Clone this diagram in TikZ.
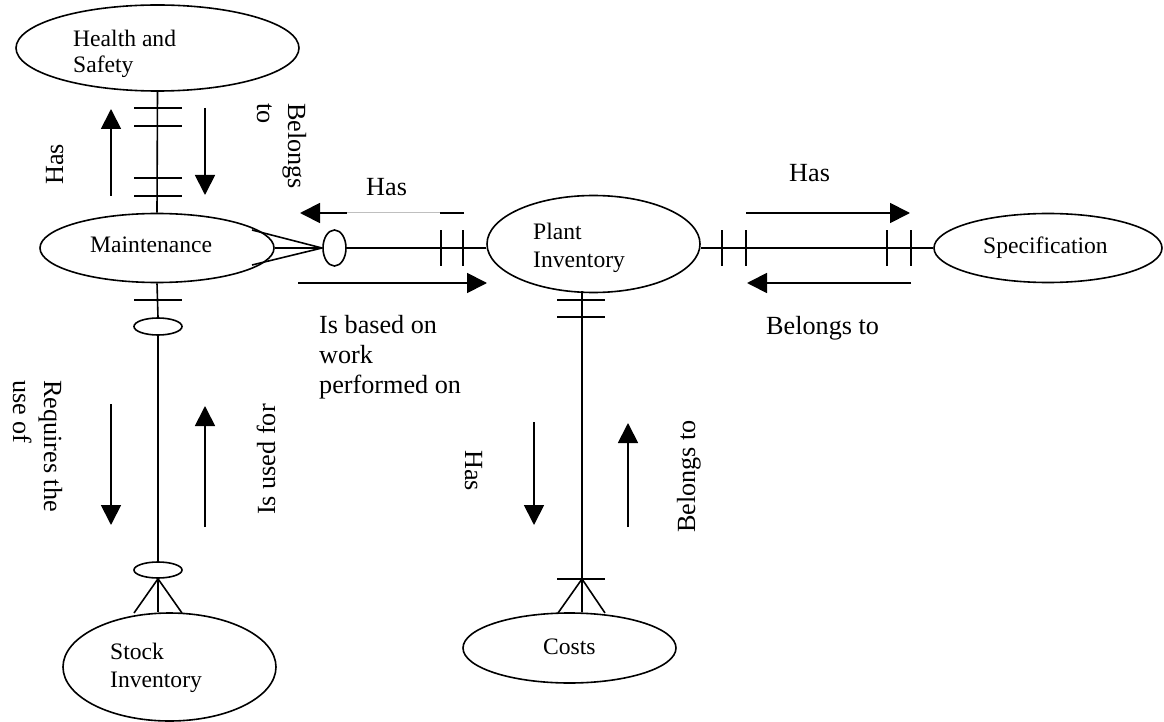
\documentclass[tikz,border=0pt]{standalone}
\usepackage{fontspec}
\setmainfont{Liberation Serif}
\usetikzlibrary{shapes.geometric,arrows.meta}
\begin{document}
\begin{tikzpicture}[x=1pt,y=-1pt,
  ent/.style={draw,ellipse,line width=1.6pt,inner sep=0pt},
  opt/.style={draw,ellipse,line width=1.6pt,inner sep=0pt},
  conn/.style={line width=1.6pt},
  tick/.style={line width=1.6pt},
  flow/.style={line width=1.8pt,-{Triangle[length=20pt,width=20pt]}},
  ntext/.style={inner sep=0pt,anchor=base west,font=\fontsize{23.6}{28}\selectfont},
  ltext/.style={inner sep=0pt,anchor=base west,font=\fontsize{26.2}{30}\selectfont}]
\useasboundingbox (0,0) rectangle (1164,722);
% entities
\node[ent,minimum width=283pt,minimum height=86pt] (hs) at (157.5,48) {};
\node[ent,minimum width=234pt,minimum height=69pt] (mt) at (157,248) {};
\node[ent,minimum width=213pt,minimum height=97pt] (pi) at (593.5,244) {};
\node[ent,minimum width=228pt,minimum height=69pt] (sp) at (1048,248) {};
\node[ent,minimum width=213pt,minimum height=108pt] (si) at (169.5,667) {};
\node[ent,minimum width=213pt,minimum height=70pt] (co) at (569.5,648) {};
% optionality ovals
\node[opt,minimum width=23pt,minimum height=36pt] (o1) at (334.5,248) {};
\node[opt,minimum width=48pt,minimum height=17pt] (o2) at (158,326.5) {};
\node[opt,minimum width=48pt,minimum height=16pt] (o3) at (158,570) {};
% entity texts
\node[ntext] (t1) at (73,47) {Health and};
\node[ntext] (t2) at (73,73) {Safety};
\node[ntext] (t3) at (90,252) {Maintenance};
\node[ntext] (t4) at (533,239) {Plant};
\node[ntext] (t5) at (533,267) {Inventory};
\node[ntext] (t6) at (983,253) {Specification};
\node[ntext] (t7) at (110,659) {Stock};
\node[ntext] (t8) at (110,687) {Inventory};
\node[ntext] (t9) at (543,654) {Costs};
% connectors
\draw[conn] (hs.south) -- (mt.north);
\draw[conn] (mt.south) -- (o2.north);
\draw[conn] (o2.south) -- (o3.north);
\coordinate (f1) at (o3.south);
\draw[conn] (f1) -- (f1 |- si.north);
\draw[conn] (f1) -- (134,613);
\draw[conn] (f1) -- (182,613);
\coordinate (f2) at (322,248);
\draw[conn] (mt.east) -- (f2);
\draw[conn] (252,230) -- (f2);
\draw[conn] (252,265) -- (f2);
\draw[conn] (o1.east) -- (o1.east -| pi.west);
\draw[conn] (sp.west -| pi.east) -- (sp.west);
\coordinate (pb) at (582,291);
\coordinate (cf) at (582,579);
\draw[conn] (pb) -- (pb |- co.north);
\draw[conn] (cf) -- (558,613);
\draw[conn] (cf) -- (605,613);
% ticks
\foreach \y in {108,126,178,196,300} \draw[tick] (134,\y) -- (182,\y);
\foreach \y in {300,317,579} \draw[tick] (557,\y) -- (605,\y);
\foreach \x in {441,463,722,746,887,911} \draw[tick] (\x,230) -- (\x,266);
% direction arrows
\draw[flow] (111,196) -- (111,109);
\draw[flow] (205,108) -- (205,195);
\draw[line width=1.8pt] (464,213) -- (440,213);
\draw[line width=1pt,black!25] (440,213) -- (347,213);
\draw[flow] (347,213) -- (300,213);
\draw[flow] (298,283) -- (487,283);
\draw[flow] (746,213) -- (910,213);
\draw[flow] (911,283) -- (747,283);
\draw[flow] (111,404) -- (111,525);
\draw[flow] (205,527) -- (205,406);
\draw[flow] (534,422) -- (534,525);
\draw[flow] (628,527) -- (628,423);
% labels
\node[ltext,rotate=90] (l1) at (63,185) {Has};
\node[ltext,rotate=-90] (l2) at (288,103) {Belongs};
\node[ltext,rotate=-90] (l3) at (257,103) {to};
\node[ltext] (l4) at (366,196) {Has};
\node[ltext] (l5) at (789,182) {Has};
\node[ltext] (l6) at (319,333) {Is based on};
\node[ltext] (l7) at (319,363) {work};
\node[ltext] (l8) at (319,393) {performed on};
\node[ltext] (l9) at (766,334) {Belongs to};
\node[ltext,rotate=-90] (l10) at (44,380) {Requires the};
\node[ltext,rotate=-90] (l11) at (13,380) {use of};
\node[ltext,rotate=90] (l12) at (275,515) {Is used for};
\node[ltext,rotate=-90] (l13) at (465,450) {Has};
\node[ltext,rotate=90] (l14) at (695,533) {Belongs to};
\end{tikzpicture}
\end{document}
